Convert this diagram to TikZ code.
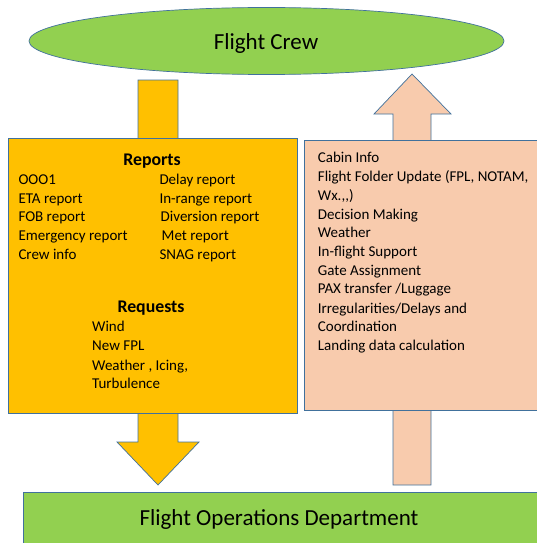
\documentclass[tikz,border=0pt]{standalone}
\usepackage{fontspec}
\setmainfont{Carlito}
\usetikzlibrary{shapes.geometric}
\definecolor{lgreen}{HTML}{92D050}
\definecolor{gold}{HTML}{FFC000}
\definecolor{peach}{HTML}{F8CBAD}
\definecolor{edge}{HTML}{41719C}
\begin{document}
\begin{tikzpicture}[x=1pt,y=-1pt,
  shapeedge/.style={draw=edge,line width=0.7pt},
  txt/.style={inner sep=0pt,anchor=base west,font=\fontsize{15}{18}\selectfont},
  hdr/.style={inner sep=0pt,anchor=base,font=\fontsize{17.8}{20}\selectfont\bfseries},
  big/.style={font=\fontsize{23}{27}\selectfont}]
\useasboundingbox (0,0) rectangle (537,543);
% arrows (behind boxes)
\filldraw[fill=gold,shapeedge] (138,80) -- (178,80) -- (178,442) -- (199,442) -- (158,485) -- (117,442) -- (138,442) -- cycle;
\filldraw[fill=peach,shapeedge] (393,485) -- (431,485) -- (431,114) -- (451,114) -- (412,74) -- (374,114) -- (393,114) -- cycle;
% nodes
\node[shapeedge,fill=lgreen,ellipse,minimum width=475pt,minimum height=67pt,inner sep=0pt] (crew) at (266.5,41) {};
\node[big] (crewt) at (266,43) {Flight Crew};
\node[shapeedge,fill=gold,rectangle,minimum width=289pt,minimum height=275pt,inner sep=0pt] (rep) at (152.5,275.5) {};
\node[shapeedge,fill=peach,rectangle,minimum width=250pt,minimum height=270pt,inner sep=0pt] (info) at (429,275) {};
\node[shapeedge,fill=lgreen,rectangle,minimum width=520pt,minimum height=70pt,inner sep=0pt] (fod) at (283,527) {};
\node[big] (fodt) at (279,519) {Flight Operations Department};
% Reports
\node[hdr] (rh) at (152,165) {Reports};
\node[txt] (l1) at (18.3,184) {OOO1};
\node[txt] (l2) at (18.3,203) {ETA report};
\node[txt] (l3) at (18.3,221.5) {FOB report};
\node[txt] (l4) at (18.3,240.3) {Emergency report};
\node[txt] (l5) at (18.3,259) {Crew info};
\node[txt] (r1) at (159.3,184) {Delay report};
\node[txt] (r2) at (159.3,203) {In-range report};
\node[txt] (r3) at (160.5,221.5) {Diversion report};
\node[txt] (r4) at (161.5,240.3) {Met report};
\node[txt] (r5) at (159.3,259) {SNAG report};
% Requests
\node[hdr] (qh) at (151,312) {Requests};
\node[txt] (q1) at (92,331) {Wind};
\node[txt] (q2) at (92,350.5) {New FPL};
\node[txt] (q3) at (92,370) {Weather , Icing,};
\node[txt] (q4) at (92,388.5) {Turbulence};
% right box
\node[txt] (i1) at (317.7,162) {Cabin Info};
\node[txt] (i2) at (317.7,181) {Flight Folder Update (FPL, NOTAM,};
\node[txt] (i3) at (317.7,200) {Wx.,{},{})};
\node[txt] (i4) at (317.7,219) {Decision Making};
\node[txt] (i5) at (317.7,237.5) {Weather};
\node[txt] (i6) at (317.7,256.5) {In-flight Support};
\node[txt] (i7) at (317.7,275) {Gate Assignment};
\node[txt] (i8) at (317.7,293.5) {PAX transfer /Luggage};
\node[txt] (i9) at (317.7,313) {Irregularities/Delays and};
\node[txt] (i10) at (317.7,331.5) {Coordination};
\node[txt] (i11) at (317.7,350) {Landing data calculation};
\end{tikzpicture}
\end{document}
